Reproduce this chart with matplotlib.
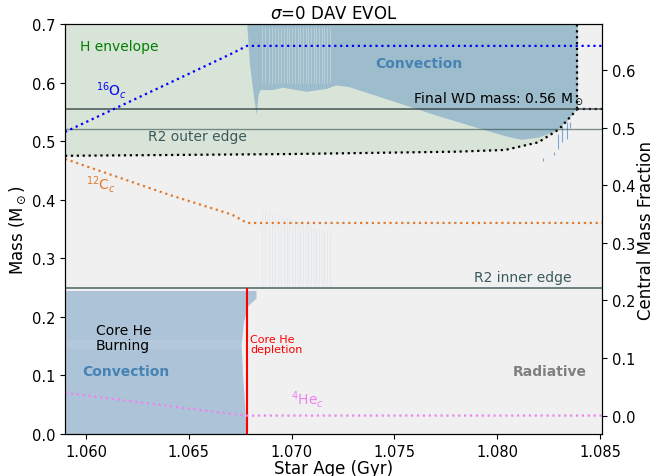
import numpy as np
import matplotlib
matplotlib.use('Agg')
import matplotlib.pyplot as plt

# 包层底部 (H envelope 边界, 黑色点线)
age_env = [1.05898, 1.0700, 1.0780, 1.0804, 1.0820, 1.0830, 1.0836, 1.0839]
m_env = [0.475, 0.478, 0.482, 0.485, 0.498, 0.520, 0.543, 0.555]

# 外层对流区下边界
age_cz = [1.06782, 1.06795, 1.06811, 1.06828, 1.06837, 1.06847, 1.06907, 1.06955,
          1.0707, 1.07167, 1.07215, 1.0728, 1.07716, 1.07876, 1.08041, 1.08118,
          1.08201, 1.08283, 1.08346, 1.0838, 1.0839]
m_cz = [0.70, 0.633, 0.5875, 0.545, 0.58, 0.588, 0.588, 0.592, 0.585, 0.59,
        0.596, 0.593, 0.543, 0.526, 0.509, 0.503, 0.507, 0.518, 0.538, 0.555, 0.555]

# 对流区中的间歇条纹
stripe_age = [1.068566, 1.068726, 1.068886, 1.069031, 1.069177, 1.069322, 1.069468,
              1.069613, 1.069759, 1.069890, 1.070020, 1.070146, 1.070292, 1.070423,
              1.070554, 1.070680, 1.070811, 1.070942, 1.071068, 1.071198, 1.071344,
              1.071475, 1.071601, 1.071732, 1.071863]
faint_top = [0.384, 0.382, 0.380, 0.378, 0.377, 0.375, 0.374, 0.372, 0.371, 0.370,
             0.368, 0.367, 0.365, 0.364, 0.362, 0.360, 0.358, 0.356, 0.354, 0.352,
             0.350, 0.348, 0.347, 0.346, 0.345]

# 零星的小对流区
speck_age = [1.08225, 1.08278, 1.08295, 1.08314, 1.08338, 1.08355]
speck_lo = [0.466, 0.476, 0.487, 0.498, 0.503, 0.522]
speck_hi = [0.472, 0.482, 0.512, 0.526, 0.532, 0.532]

# 核心对流区右边界
m_core = [0.0, 0.037, 0.094, 0.151, 0.191, 0.219, 0.232, 0.245]
age_core = [1.06779, 1.06774, 1.06763, 1.06755, 1.06766, 1.06787, 1.06827, 1.06827]

age_depletion = 1.06783
final_mass = 0.5555
r2_outer = 0.52
r2_inner = 0.2497

# 中心丰度
age_chem = [1.05898, 1.0640, 1.0671, 1.06783, 1.0851]
o16_c = [0.4925, 0.5766, 0.6288, 0.642, 0.642]
c12_c = [0.4457, 0.384, 0.349, 0.3345, 0.3345]
he4_c = [0.0394, 0.0167, 0.0027, 0.0, 0.0]

x_lo, x_hi = 1.05898, 1.0851

fig = plt.figure(figsize=(6.54, 4.77), dpi=100)
ax = fig.add_axes([65 / 654, 1 - 435 / 477, (602 - 65) / 654, (435 - 25) / 477])
ax.set_facecolor('#f0f0f0')

# H envelope 区域
ax.fill_between(age_env, m_env, 0.7, color='#d9e4d9', lw=0)
ax.fill_between([x_lo, age_env[0]], [m_env[0]] * 2, 0.7, color='#d9e4d9', lw=0)

# 外层对流区
ax.fill_between(age_cz, m_cz, 0.7, color='#9dbdcc', lw=0)
ax.vlines(stripe_age, 0.60, 0.695, color='#c6d8dc', lw=0.5)
ax.vlines(stripe_age, 0.2505, faint_top, color='#9dbdcc', lw=0.6, alpha=0.15)
ax.vlines(speck_age, speck_lo, speck_hi, color='#4a8ac8', lw=0.8, alpha=0.7)

# 核心对流区
ax.fill_betweenx(m_core, x_lo, age_core, color='#adc4d8', lw=0)
ax.axhspan(0.145, 0.16, xmin=0, xmax=0.33, color='white', alpha=0.08, lw=0)

ax.plot(age_env, m_env, ':', color='black', lw=1.6)
ax.plot([age_env[-1], x_hi], [m_env[-1]] * 2, ':', color='black', lw=1.6)
ax.plot([age_env[-1]] * 2, [m_env[-1], 0.7], ':', color='black', lw=1.6)

ax.axhline(final_mass, color='#2f3f3f', lw=1.2, alpha=0.8)
ax.axhline(r2_outer, color='#2f4f4f', lw=1.0, alpha=0.6)
ax.axhline(r2_inner, color='#2f4f4f', lw=1.2, alpha=0.8)
ax.vlines(age_depletion, 0, r2_inner, color='red', lw=1.5)

ax.text(1.05971, 0.662, 'H envelope', color='green', fontsize=10, va='center')
ax.text(1.06048, 0.588, '$^{16}$O$_c$', color='blue', fontsize=10, va='center')
ax.text(1.06301, 0.5085, 'R2 outer edge', color='#3a5a5a', fontsize=10, va='center')
ax.text(1.0600, 0.428, '$^{12}$C$_c$', color='#e07b30', fontsize=10, va='center')
ax.text(1.07619, 0.633, 'Convection', color='steelblue', fontsize=10,
        fontweight='bold', ha='center', va='center')
ax.text(1.0759, 0.575, r'Final WD mass: 0.56 M$_\odot$', color='black',
        fontsize=10, va='center')
ax.text(1.07886, 0.268, 'R2 inner edge', color='#3a5a5a', fontsize=10, va='center')
ax.text(1.06048, 0.1655, 'Core He\nBurning', color='black', fontsize=10,
        va='center', linespacing=1.1)
ax.text(1.0680, 0.1536, 'Core He\ndepletion', color='red', fontsize=8,
        va='center', linespacing=1.1)
ax.text(1.06194, 0.1075, 'Convection', color='steelblue', fontsize=10,
        fontweight='bold', ha='center', va='center')
ax.text(1.06999, 0.06, '$^4$He$_c$', color='violet', fontsize=10, va='center')
ax.text(1.08254, 0.1075, 'Radiative', color='gray', fontsize=10,
        fontweight='bold', ha='center', va='center')

ax.set_xlim(x_lo, x_hi)
ax.set_ylim(0, 0.7)
ax.set_xticks([1.060, 1.065, 1.070, 1.075, 1.080, 1.085])
ax.set_xticklabels(['1.060', '1.065', '1.070', '1.075', '1.080', '1.085'])
ax.tick_params(labelsize=10.5)
ax.set_xlabel('Star Age (Gyr)', fontsize=12, labelpad=0)
ax.set_ylabel(r'Mass (M$_\odot$)', fontsize=12, labelpad=3)
ax.set_title(r'$\sigma$=0 DAV EVOL', fontsize=12, pad=4)

ax2 = ax.twinx()
ax2.plot(age_chem, o16_c, ':', color='blue', lw=1.6)
ax2.plot(age_chem, c12_c, ':', color='#e07b30', lw=1.6)
ax2.plot(age_chem, he4_c, ':', color='violet', lw=1.6)
ax2.set_ylim(-0.032, 0.680)
ax2.tick_params(labelsize=10.5)
ax2.set_ylabel('Central Mass Fraction', fontsize=12, labelpad=1)

fig.savefig('out.png', dpi=100)
